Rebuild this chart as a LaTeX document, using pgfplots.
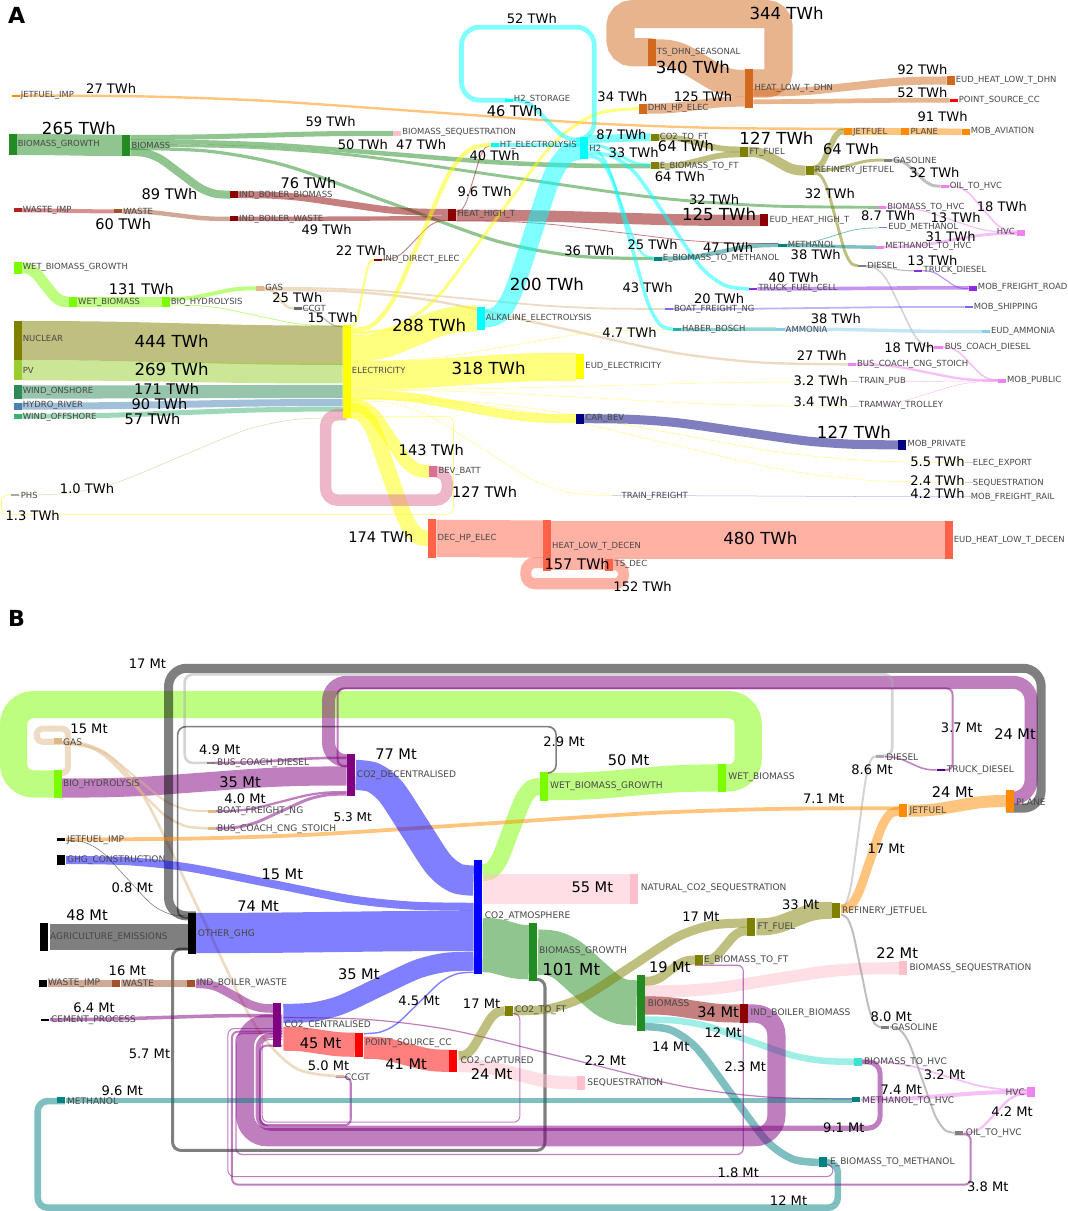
\documentclass[border=0pt]{standalone}
\usepackage[svgnames]{xcolor}
\usepackage{pgfplots}
\pgfplotsset{compat=1.18}
\usepackage{fontspec}
\setmainfont{DejaVu Sans}
% node bar: xleft, ytop, ybottom, colour
\newcommand\nd[4]{\pgfmathsetmacro\xc{#1+4}\edef\tmp{\noexpand\addplot[draw=#4,line width=8pt] coordinates {(\xc,#2)(\xc,#3)};}\tmp}
% flow: colour, width, x1,y1,x2,y2
\newcommand\fl[6]{%
\pgfmathsetmacro\dx{#5-#3}\pgfmathsetmacro\dy{#6-#4}%
\pgfmathsetmacro\xa{#3+0.15*\dx}\pgfmathsetmacro\ya{#4+0.025*\dy}%
\pgfmathsetmacro\xb{#3+0.3*\dx}\pgfmathsetmacro\yb{#4+0.16*\dy}%
\pgfmathsetmacro\xm{#3+0.5*\dx}\pgfmathsetmacro\ym{#4+0.5*\dy}%
\pgfmathsetmacro\xd{#3+0.7*\dx}\pgfmathsetmacro\yd{#4+0.84*\dy}%
\pgfmathsetmacro\xe{#3+0.85*\dx}\pgfmathsetmacro\ye{#4+0.975*\dy}%
\edef\tmp{\noexpand\addplot[draw=#1,line width=#2pt,draw opacity=0.5,smooth] coordinates {(#3,#4)(\xa,\ya)(\xb,\yb)(\xm,\ym)(\xd,\yd)(\xe,\ye)(#5,#6)};}\tmp}
% loop: colour, width, radius, coords
\newcommand\lp[4]{\addplot[draw=#1,line width=#2pt,draw opacity=0.5,rounded corners=#3pt] coordinates {#4};}
\newcommand\nl[3]{\node[anchor=west,inner sep=0pt,text=black!72,font=\fontsize{8.4}{8.4}\selectfont] at (#1,#2) {\detokenize{#3}};}
\newcommand\nb[3]{\node[anchor=west,inner sep=0pt,text=black!72,font=\fontsize{9}{9}\selectfont] at (#1,#2) {\detokenize{#3}};}
\newcommand\vl[3]{\node[inner sep=0pt,font=\fontsize{13}{13}\selectfont] at (#1,#2) {#3};}
\newcommand\ml[3]{\node[inner sep=0pt,font=\fontsize{14.5}{14.5}\selectfont] at (#1,#2) {#3};}
\newcommand\VL[3]{\node[inner sep=0pt,font=\fontsize{16.5}{16.5}\selectfont] at (#1,#2) {#3};}
\begin{document}
\begin{tikzpicture}
\begin{axis}[width=1065pt,height=1211pt,scale only axis,xmin=0,xmax=1065,ymin=0,ymax=1211,y dir=reverse,hide axis,clip=false]
% ================= PANEL A flows =================
\fl{DarkOrange}{2.4}{21}{98}{840}{131}
\fl{ForestGreen}{21}{18}{146.5}{123}{147.5}
\fl{ForestGreen}{5}{131}{139.5}{392}{135.5}
\fl{ForestGreen}{4.5}{131}{144}{648}{168}
\fl{ForestGreen}{2.9}{131}{147.5}{874}{209}
\fl{ForestGreen}{3.2}{131}{150.5}{651}{260}
\fl{ForestGreen}{8}{131}{154}{230}{196.5}
\fl{FireBrick}{4}{23}{212}{115}{213}
\fl{Sienna}{4.4}{123}{213}{230}{220.5}
\fl{DarkRed}{6.8}{238}{196.5}{447}{214}
\fl{DarkRed}{4.4}{238}{220.5}{447}{220}
\fl{DarkRed}{11.2}{455}{217}{757}{222}
\fl{DarkRed}{0.9}{381}{261}{447}{222}
\fl{DarkRed}{0.9}{455}{213}{489}{148}
\fl{DarkRed}{0.8}{455}{222.5}{775}{245}
\fl{LawnGreen}{11}{23}{269}{70}{303}
\fl{LawnGreen}{10}{78}{303}{162}{303}
\fl{LawnGreen}{4}{170}{300}{256}{289.5}
\fl{LawnGreen}{0.8}{170}{306}{342}{327}
\fl{BurlyWood}{2.3}{264}{290}{294}{309.5}
\fl{BurlyWood}{1.8}{264}{289}{662}{310}
\fl{BurlyWood}{2.4}{264}{291}{844}{365}
\fl{Gray}{1.4}{302}{309.5}{342}{327.5}
\fl{Olive}{39}{23}{341.5}{342}{346}
\fl{YellowGreen}{20}{23}{371}{342}{374}
\fl{SeaGreen}{13}{23}{392.5}{342}{392}
\fl{SteelBlue}{7}{23}{406.5}{342}{403}
\fl{MediumSeaGreen}{5}{23}{416.5}{342}{409.5}
\fl{Yellow}{2}{350}{328}{373}{261}
\fl{Yellow}{4.2}{350}{331}{489}{147}
\fl{Yellow}{3}{350}{334}{636}{111}
\fl{Yellow}{26}{350}{349}{475}{319.5}
\fl{Yellow}{0.5}{350}{362}{670}{330.5}
\fl{Yellow}{28}{350}{376}{574}{367.5}
\fl{Yellow}{0.4}{350}{390}{846}{382.5}
\fl{Yellow}{0.4}{350}{391}{846}{406.5}
\fl{Yellow}{9}{350}{395}{574}{419}
\fl{Yellow}{0.5}{350}{399}{960}{462.5}
\fl{Yellow}{0.4}{350}{400}{960}{482.5}
\fl{Yellow}{0.4}{350}{401}{610}{495.5}
\fl{Yellow}{13}{350}{406}{428}{471.5}
\fl{Yellow}{15.7}{350}{411}{427}{538}
\lp{PaleVioletRed}{11.4}{12}{(430,471.5)(446,471.5)(446,500)(325,500)(325,415)(346,415)}
\lp{Yellow}{0.8}{6}{(346,417)(452,417)(452,514)(3,514)(3,495)(16,495)}
\fl{BurlyWood}{0.7}{20}{495}{342}{418}
\fl{Cyan}{18}{483}{319.5}{578}{153}
\fl{Cyan}{3.6}{497}{147}{578}{147}
\lp{Cyan}{4.7}{18}{(580,142)(592,142)(592,30)(460,30)(460,102.5)(507,102.5)}
\fl{Cyan}{4.1}{511}{102.5}{578}{142}
\fl{Cyan}{7.8}{586}{141}{648}{139.5}
\fl{Cyan}{3}{586}{147}{648}{167}
\fl{Cyan}{2.3}{586}{151}{651}{259}
\fl{Cyan}{3.6}{586}{155}{746}{290}
\fl{Cyan}{3.5}{586}{158}{670}{330}
\fl{Olive}{5.8}{656}{139.5}{737}{151.5}
\fl{Olive}{5.8}{656}{168}{737}{156.5}
\fl{Olive}{10}{745}{154}{802}{172.5}
\fl{Olive}{5.8}{810}{170}{840}{133.5}
\fl{Olive}{2.9}{810}{172.5}{880}{162}
\fl{Olive}{2.9}{810}{175}{854}{267}
\fl{DarkOrange}{6.5}{848}{133.5}{897}{133.5}
\fl{DarkOrange}{6.5}{905}{133.5}{957}{134}
\fl{Gray}{2.9}{888}{162}{936}{188}
\fl{Violet}{1.6}{944}{188}{1012}{233}
\fl{Violet}{1.2}{882}{209}{1012}{234}
\fl{Violet}{2.8}{880}{248.5}{1012}{235}
\fl{Teal}{4.2}{659}{260}{775}{246.5}
\fl{Teal}{3.4}{783}{247}{872}{248.5}
\fl{Teal}{0.8}{783}{245.5}{875}{229.5}
\fl{Gray}{1.2}{862}{267}{910}{272}
\fl{DarkGray}{1.6}{862}{268}{930}{348}
\fl{BlueViolet}{1.2}{918}{272}{964}{290}
\fl{BlueViolet}{3.6}{754}{290}{964}{289}
\fl{MediumSlateBlue}{1.8}{670}{310}{960}{308}
\fl{LightSeaGreen}{3.4}{678}{330.5}{773}{330}
\fl{SkyBlue}{3.4}{781}{330}{977}{332.5}
\fl{Violet}{2.4}{852}{365}{993}{381}
\fl{Violet}{1.6}{938}{348}{993}{380.5}
\fl{Violet}{0.5}{853}{382.5}{993}{381.5}
\fl{Violet}{0.5}{853}{406.5}{993}{382}
\fl{Navy}{9}{582}{419}{894}{445}
\fl{MediumSlateBlue}{0.5}{618}{495.5}{958}{496.5}
\fl{Tomato}{37}{435}{538}{541}{538.5}
\fl{Tomato}{37}{549}{539.5}{940}{539.5}
\fl{Tomato}{11}{549}{564}{603}{564}
\lp{Tomato}{11}{9}{(605,564)(621,564)(621,583)(524,583)(524,562)(545,562)}
\fl{Chocolate}{10}{644}{111}{742}{104}
\fl{Chocolate}{27}{653}{55.5}{742}{86}
\lp{Chocolate}{28}{12}{(745,86)(775,86)(775,17)(618,17)(618,55)(650,55)}
\fl{Chocolate}{8}{750}{95}{942}{83}
\fl{Chocolate}{4.7}{750}{104}{945}{102.5}
% ================= PANEL A nodes =================
\nd{13}{97}{99.5}{DarkOrange}
\nd{10}{136}{157}{ForestGreen}
\nd{123}{137}{158}{ForestGreen}
\nd{392}{133}{138}{Pink}
\nd{15}{210}{214}{FireBrick}
\nd{115}{211}{215}{Sienna}
\nd{230}{193}{200}{DarkRed}
\nd{230}{218}{223}{DarkRed}
\nd{447}{211}{223}{DarkRed}
\nd{757}{216}{228}{DarkRed}
\nd{373}{260}{262}{DarkRed}
\nd{15}{263}{275}{LawnGreen}
\nd{70}{298}{308}{LawnGreen}
\nd{162}{298}{308}{LawnGreen}
\nd{256}{287}{292}{BurlyWood}
\nd{294}{308}{311}{DimGray}
\nd{15}{322}{361}{Olive}
\nd{15}{361}{381}{YellowGreen}
\nd{15}{386}{399}{SeaGreen}
\nd{15}{403}{410}{SteelBlue}
\nd{15}{414}{419}{MediumSeaGreen}
\nd{342}{326}{418}{Yellow}
\nd{475}{308}{331}{Cyan}
\nd{574}{355}{380}{Yellow}
\nd{574}{414}{424}{Navy}
\nd{428}{466}{477}{PaleVioletRed}
\nd{427}{519}{557}{Tomato}
\nd{541}{520}{570}{Tomato}
\nd{603}{558}{570}{Tomato}
\nd{940}{521}{558}{Tomato}
\nd{12}{494}{495.5}{DarkGray}
\nd{503}{101}{104}{Cyan}
\nd{489}{145}{149}{Cyan}
\nd{578}{139}{161}{Cyan}
\nd{645}{42}{69}{Chocolate}
\nd{636}{106}{116}{Chocolate}
\nd{742}{72}{110}{Chocolate}
\nd{942}{79}{87}{Chocolate}
\nd{945}{101}{104}{Red}
\nd{648}{136}{143}{Olive}
\nd{648}{164}{171}{Olive}
\nd{737}{149}{159}{Olive}
\nd{802}{168}{177}{Olive}
\nd{840}{130}{137}{DarkOrange}
\nd{897}{130}{137}{DarkOrange}
\nd{957}{131}{137}{DarkOrange}
\nd{880}{161}{163.5}{Gray}
\nd{936}{187}{189.5}{Violet}
\nd{874}{208}{210.5}{Violet}
\nd{875}{228.5}{230}{MediumPurple}
\nd{1012}{232}{237}{Violet}
\nd{775}{245}{248}{Teal}
\nd{872}{247}{250}{Violet}
\nd{651}{258}{262}{Teal}
\nd{854}{266}{268.5}{Gray}
\nd{910}{271}{273}{BlueViolet}
\nd{746}{289}{291.5}{BlueViolet}
\nd{964}{287}{292}{BlueViolet}
\nd{662}{309}{311}{MediumSlateBlue}
\nd{960}{307}{309}{MediumSlateBlue}
\nd{670}{329}{332}{LightSeaGreen}
\nd{773}{329}{331.5}{SkyBlue}
\nd{977}{331}{334}{SkyBlue}
\nd{930}{347}{349.5}{Violet}
\nd{844}{364}{366.5}{Violet}
\nd{846}{382}{383}{LightGray}
\nd{993}{380}{383.5}{Violet}
\nd{846}{406}{407}{LightGray}
\nd{894}{440}{450}{Navy}
\nd{960}{462}{463}{LightGray}
\nd{960}{482}{483}{LightGray}
\nd{958}{496}{497}{LightGray}
\nd{610}{495}{496}{LightGray}
% ================= PANEL A labels =================
\nl{22}{98}{JETFUEL_IMP}
\nl{19}{146}{BIOMASS_GROWTH}
\nl{132}{147}{BIOMASS}
\nl{401}{135}{BIOMASS_SEQUESTRATION}
\nl{24}{212}{WASTE_IMP}
\nl{124}{213}{WASTE}
\nl{239}{197}{IND_BOILER_BIOMASS}
\nl{239}{221}{IND_BOILER_WASTE}
\nl{456}{216}{HEAT_HIGH_T}
\nl{766}{222}{EUD_HEAT_HIGH_T}
\nl{382}{261}{IND_DIRECT_ELEC}
\nl{24}{269}{WET_BIOMASS_GROWTH}
\nl{79}{303}{WET_BIOMASS}
\nl{171}{303}{BIO_HYDROLYSIS}
\nl{265}{289}{GAS}
\nl{302}{309}{CCGT}
\nl{24}{339}{NUCLEAR}
\nl{24}{371}{PV}
\nl{24}{392}{WIND_ONSHORE}
\nl{24}{406}{HYDRO_RIVER}
\nl{24}{418}{WIND_OFFSHORE}
\nl{351}{371}{ELECTRICITY}
\nl{484}{319}{ALKALINE_ELECTROLYSIS}
\nl{583}{367}{EUD_ELECTRICITY}
\nl{583}{419}{CAR_BEV}
\nl{437}{471}{BEV_BATT}
\nl{436}{538}{DEC_HP_ELEC}
\nl{550}{546}{HEAT_LOW_T_DECEN}
\nl{612}{564}{TS_DEC}
\nl{949}{540}{EUD_HEAT_LOW_T_DECEN}
\nl{22}{495}{PHS}
\nl{512}{102}{H2_STORAGE}
\nl{498}{147}{HT_ELECTROLYSIS}
\nl{587}{150}{H2}
\nl{654}{55}{TS_DHN_SEASONAL}
\nl{645}{111}{DHN_HP_ELEC}
\nl{751}{91}{HEAT_LOW_T_DHN}
\nl{951}{83}{EUD_HEAT_LOW_T_DHN}
\nl{954}{103}{POINT_SOURCE_CC}
\nl{657}{139}{CO2_TO_FT}
\nl{657}{168}{E_BIOMASS_TO_FT}
\nl{746}{154}{FT_FUEL}
\nl{811}{172}{REFINERY_JETFUEL}
\nl{849}{134}{JETFUEL}
\nl{906}{134}{PLANE}
\nl{966}{134}{MOB_AVIATION}
\nl{889}{162}{GASOLINE}
\nl{945}{188}{OIL_TO_HVC}
\nl{883}{209}{BIOMASS_TO_HVC}
\nl{884}{229}{EUD_METHANOL}
\node[anchor=east,inner sep=0pt,text=black!72,font=\fontsize{8.4}{8.4}\selectfont] at (1010,233) {HVC};
\nl{784}{246}{METHANOL}
\nl{881}{248}{METHANOL_TO_HVC}
\nl{660}{260}{E_BIOMASS_TO_METHANOL}
\nl{863}{267}{DIESEL}
\nl{919}{272}{TRUCK_DIESEL}
\nl{755}{290}{TRUCK_FUEL_CELL}
\nl{973}{289}{MOB_FREIGHT_ROAD}
\nl{671}{310}{BOAT_FREIGHT_NG}
\nl{969}{308}{MOB_SHIPPING}
\nl{679}{330}{HABER_BOSCH}
\nl{782}{330}{AMMONIA}
\nl{986}{332}{EUD_AMMONIA}
\nl{940}{348}{BUS_COACH_DIESEL}
\nl{853}{365}{BUS_COACH_CNG_STOICH}
\nl{855}{382}{TRAIN_PUB}
\nl{855}{406}{TRAMWAY_TROLLEY}
\nl{1002}{381}{MOB_PUBLIC}
\nl{903}{445}{MOB_PRIVATE}
\nl{968}{463}{ELEC_EXPORT}
\nl{968}{483}{SEQUESTRATION}
\nl{966}{497}{MOB_FREIGHT_RAIL}
\nl{619}{496}{TRAIN_FREIGHT}
% values A
\vl{112}{91}{27 TWh}
\VL{80}{130}{265 TWh}
\vl{330}{124}{59 TWh}
\vl{362}{147}{50 TWh}
\ml{170}{196}{89 TWh}
\ml{308}{185}{76 TWh}
\ml{124}{226}{60 TWh}
\vl{326}{231}{49 TWh}
\vl{360}{252}{22 TWh}
\ml{142}{290}{131 TWh}
\vl{297}{299}{25 TWh}
\vl{332}{319}{15 TWh}
\VL{172}{342}{444 TWh}
\VL{172}{370}{269 TWh}
\ml{167}{389}{171 TWh}
\ml{160}{404}{90 TWh}
\ml{153}{419}{57 TWh}
\vl{88}{488}{1.0 TWh}
\vl{34}{515}{1.3 TWh}
\vl{530}{22}{52 TWh}
\ml{513}{113}{46 TWh}
\vl{420}{147}{47 TWh}
\vl{493}{158}{40 TWh}
\vl{483}{193}{9.6 TWh}
\VL{545}{285}{200 TWh}
\VL{428}{326}{288 TWh}
\VL{487}{369}{318 TWh}
\ml{430}{450}{143 TWh}
\ml{483}{492}{127 TWh}
\ml{380}{537}{174 TWh}
\vl{627}{333}{4.7 TWh}
\vl{620}{99}{34 TWh}
\vl{700}{99}{125 TWh}
\VL{690}{70}{340 TWh}
\VL{783}{16}{344 TWh}
\vl{619}{137}{87 TWh}
\vl{631}{155}{33 TWh}
\ml{683}{148}{64 TWh}
\vl{677}{178}{64 TWh}
\VL{773}{140}{127 TWh}
\vl{587}{252}{36 TWh}
\vl{650}{246}{25 TWh}
\vl{725}{249}{47 TWh}
\vl{645}{289}{43 TWh}
\vl{790}{279}{40 TWh}
\VL{716}{216}{125 TWh}
\vl{711}{201}{32 TWh}
\vl{826}{195}{32 TWh}
\ml{847}{151}{64 TWh}
\vl{918}{72}{92 TWh}
\vl{918}{95}{52 TWh}
\vl{938}{119}{91 TWh}
\vl{930}{175}{32 TWh}
\vl{997}{208}{18 TWh}
\vl{951}{219}{13 TWh}
\vl{884}{217}{8.7 TWh}
\vl{946}{238}{31 TWh}
\vl{812}{256}{38 TWh}
\vl{928}{262}{13 TWh}
\vl{716}{300}{20 TWh}
\vl{832}{320}{38 TWh}
\vl{905}{348}{18 TWh}
\vl{818}{356}{27 TWh}
\vl{817}{381}{3.2 TWh}
\vl{817}{402}{3.4 TWh}
\VL{850}{432}{127 TWh}
\vl{933}{462}{5.5 TWh}
\vl{933}{480}{2.4 TWh}
\vl{933}{493}{4.2 TWh}
\VL{757}{538}{480 TWh}
\ml{575}{563}{157 TWh}
\vl{640}{586}{152 TWh}
% ================= PANEL B flows =================
\lp{LawnGreen}{27}{20}{(715,776)(745,776)(745,703)(15,703)(15,782)(62,782)}
\fl{LawnGreen}{27}{546}{784.5}{715}{776}
\fl{LawnGreen}{17}{481}{870}{538}{784.5}
\lp{BurlyWood}{6}{6}{(56,771)(69,771)(69,727)(38,727)(38,740)(62,740)}
\fl{Purple}{19}{63}{786}{346}{774}
\fl{BurlyWood}{2}{63}{740}{208}{809}
\fl{BurlyWood}{2.5}{63}{741}{208}{826}
\fl{BurlyWood}{2.7}{63}{742}{335}{1072}
\fl{Purple}{2.6}{215}{761}{346}{756}
\fl{Purple}{2.2}{216}{809}{346}{790}
\fl{Purple}{2.9}{216}{826}{346}{792}
\lp{Purple}{13}{18}{(1001,796)(1026,796)(1026,681)(328,681)(328,759)(354,759)}
\lp{Black}{9}{18}{(1001,806)(1036,806)(1036,667)(169,667)(169,913)(196,913)}
\lp{DarkGray}{2.6}{8}{(873,754)(888,754)(888,673)(185,673)(185,761)(215,761)}
\lp{Black}{1.6}{8}{(538,771)(554,771)(554,725)(178,725)(178,915)(196,915)}
\fl{DarkGray}{2}{837}{904}{872}{754.5}
\fl{Purple}{1.5}{881}{755}{932}{768}
\lp{Purple}{2}{6}{(933,768)(948,768)(948,687)(337,687)(337,764)(354,764)}
\fl{DarkOrange}{3.8}{67}{837}{895}{806}
\fl{Black}{0.6}{67}{838}{188}{913}
\fl{Blue}{8}{67}{857.5}{472}{904}
\fl{Blue}{30}{355}{773}{472}{878}
\fl{Black}{26}{51}{934}{188}{934}
\fl{Blue}{40}{196}{930}{472}{928}
\lp{Black}{3}{8}{(527,976)(543,976)(543,1146)(173,1146)(173,946)(196,946)}
\fl{Pink}{30}{481}{886}{627}{886}
\fl{ForestGreen}{54}{481}{942}{527}{949}
\fl{ForestGreen}{45}{536}{949}{634}{999.5}
\fl{Olive}{9}{642}{978}{692}{957}
\fl{Pink}{12}{642}{988}{895}{965}
\fl{DarkRed}{18}{642}{1002}{737}{1010}
\fl{Turquoise}{6.5}{642}{1016}{850}{1058}
\fl{Teal}{7.5}{642}{1023}{815}{1158}
\fl{Olive}{9}{701}{957}{744}{928}
\fl{Olive}{9}{512}{1007.5}{744}{920}
\fl{Olive}{17}{753}{924}{828}{907.5}
\fl{DarkOrange}{9}{837}{906}{895}{809}
\fl{Gray}{2}{837}{912}{877}{1023.5}
\fl{DarkOrange}{12}{904}{808.5}{1001}{799}
\fl{Gray}{2}{886}{1023.5}{950}{1128.5}
\fl{Violet}{2.2}{959}{1128.5}{1022}{1090}
\fl{Violet}{1.7}{859}{1058}{1022}{1086}
\fl{Violet}{4}{857}{1095.5}{1022}{1088}
\lp{Purple}{18}{22}{(737,1010)(773,1010)(773,1133)(245,1133)(245,1020)(282,1020)}
\lp{Purple}{5}{12}{(850,1058)(876,1058)(876,1124)(258,1124)(258,1032)(282,1032)}
\fl{Sienna}{7}{49}{980.5}{113}{980.5}
\fl{Sienna}{7}{122}{980.5}{187}{980.5}
\fl{Purple}{8.6}{196}{980.5}{273}{1005}
\fl{Purple}{3.5}{51}{1016}{273}{1012}
\fl{Blue}{19}{283}{1010}{472}{958}
\fl{Red}{24}{283}{1035}{354}{1041}
\fl{Purple}{1.2}{283}{1014}{848}{1095}
\fl{Red}{22}{363}{1044}{448}{1057}
\fl{Blue}{1.4}{363}{1030}{472}{969}
\fl{Olive}{9}{457}{1052}{503}{1007.5}
\fl{Pink}{13}{457}{1062}{575}{1079}
\lp{Purple}{1}{6}{(503,1010)(518,1010)(518,1118)(262,1118)(262,1036)(282,1036)}
\lp{Purple}{2}{6}{(335,1073)(350,1073)(350,1121)(260,1121)(260,1042)(282,1042)}
\fl{Teal}{5}{67}{1096}{848}{1096}
\lp{Teal}{6.5}{10}{(815,1158)(834,1158)(834,1203)(39,1203)(39,1097)(66,1097)}
\lp{Purple}{1}{6}{(815,1160)(829,1160)(829,1172)(228,1172)(228,1025)(282,1025)}
\lp{Purple}{2}{6}{(950,1130)(966,1130)(966,1180)(232,1180)(232,1028)(282,1028)}
\lp{Purple}{1.2}{6}{(692,962)(740,962)(740,1150)(236,1150)(236,1030)(282,1030)}
% ================= PANEL B nodes =================
\nd{55}{736}{742}{BurlyWood}
\nd{55}{768}{796}{LawnGreen}
\nd{207}{760}{762.5}{Gray}
\nd{208}{808}{810.5}{BurlyWood}
\nd{208}{825}{827.5}{BurlyWood}
\nd{346}{752}{794}{Purple}
\nd{538}{770}{799}{LawnGreen}
\nd{715}{762}{790}{LawnGreen}
\nd{58}{836}{839}{Black}
\nd{58}{853}{862}{Black}
\nd{41}{920}{948}{Black}
\nd{188}{910}{951}{Black}
\nd{472}{857}{971}{Blue}
\nd{627}{871}{901}{Pink}
\nd{527}{920}{978}{ForestGreen}
\nd{634}{972}{1027}{ForestGreen}
\nd{40}{977}{984}{Black}
\nd{113}{977}{984}{Sienna}
\nd{187}{977}{984}{Sienna}
\nd{42}{1015}{1017.5}{Black}
\nd{273}{1000}{1043}{Purple}
\nd{354}{1029}{1053}{Red}
\nd{448}{1046}{1068}{Red}
\nd{503}{1003}{1012}{Olive}
\nd{575}{1072}{1086}{Pink}
\nd{335}{1071}{1073.5}{BurlyWood}
\nd{692}{952}{962}{Olive}
\nd{744}{915}{933}{Olive}
\nd{828}{900}{915}{Olive}
\nd{895}{958}{972}{Pink}
\nd{737}{1001}{1019}{DarkRed}
\nd{877}{1022}{1025.5}{Gray}
\nd{850}{1054}{1062}{Turquoise}
\nd{848}{1093}{1098}{Teal}
\nd{1022}{1083}{1093}{Violet}
\nd{950}{1127}{1130.5}{Gray}
\nd{815}{1153}{1163}{Teal}
\nd{58}{1093}{1099}{Teal}
\nd{872}{753}{756.5}{DarkGray}
\nd{932}{767}{769.5}{Indigo}
\nd{895}{802}{815}{DarkOrange}
\nd{1001}{788}{810}{DarkOrange}
% ================= PANEL B labels =================
\nb{64}{740}{GAS}
\nb{64}{782}{BIO_HYDROLYSIS}
\nb{217}{761}{BUS_COACH_DIESEL}
\nb{217}{809}{BOAT_FREIGHT_NG}
\nb{217}{827}{BUS_COACH_CNG_STOICH}
\nb{356}{773}{CO2_DECENTRALISED}
\nb{548}{784}{WET_BIOMASS_GROWTH}
\nb{725}{775}{WET_BIOMASS}
\nb{68}{838}{JETFUEL_IMP}
\nb{68}{858}{GHG_CONSTRUCTION}
\nb{51}{934}{AGRICULTURE_EMISSIONS}
\nb{198}{931}{OTHER_GHG}
\nb{483}{913}{CO2_ATMOSPHERE}
\nb{638}{886}{NATURAL_CO2_SEQUESTRATION}
\nb{537}{948}{BIOMASS_GROWTH}
\nb{645}{1000}{BIOMASS}
\nb{49}{980}{WASTE_IMP}
\nb{123}{980}{WASTE}
\nb{197}{980}{IND_BOILER_WASTE}
\nb{52}{1017}{CEMENT_PROCESS}
\nb{284}{1022}{CO2_CENTRALISED}
\nb{364}{1040}{POINT_SOURCE_CC}
\nb{459}{1057}{CO2_CAPTURED}
\nb{513}{1007}{CO2_TO_FT}
\nb{585}{1079}{SEQUESTRATION}
\nb{344}{1073}{CCGT}
\nb{701}{957}{E_BIOMASS_TO_FT}
\nb{754}{924}{FT_FUEL}
\nb{838}{908}{REFINERY_JETFUEL}
\nb{905}{965}{BIOMASS_SEQUESTRATION}
\nb{747}{1010}{IND_BOILER_BIOMASS}
\nb{887}{1024}{GASOLINE}
\nb{860}{1058}{BIOMASS_TO_HVC}
\nb{858}{1097}{METHANOL_TO_HVC}
\node[anchor=east,inner sep=0pt,text=black!72,font=\fontsize{9}{9}\selectfont] at (1020,1088) {HVC};
\nb{961}{1129}{OIL_TO_HVC}
\nb{826}{1158}{E_BIOMASS_TO_METHANOL}
\nb{68}{1097}{METHANOL}
\nb{882}{755}{DIESEL}
\nb{942}{768}{TRUCK_DIESEL}
\nb{905}{809}{JETFUEL}
\nb{1011}{800}{PLANE}
% values B
\vl{148}{662}{17 Mt}
\vl{90}{727}{15 Mt}
\vl{220}{748}{4.9 Mt}
\ml{240}{780}{35 Mt}
\vl{245}{797}{4.0 Mt}
\node[inner sep=0pt,font=\fontsize{12}{12}\selectfont] at (352,815) {5.3 Mt};
\ml{395}{752}{77 Mt}
\vl{562}{740}{2.9 Mt}
\ml{626}{758}{50 Mt}
\vl{820}{797}{7.1 Mt}
\vl{957}{726}{3.7 Mt}
\ml{1010}{732}{24 Mt}
\vl{868}{768}{8.6 Mt}
\ml{948}{790}{24 Mt}
\vl{882}{846}{17 Mt}
\ml{282}{872}{15 Mt}
\vl{133}{885}{0.8 Mt}
\ml{258}{903}{74 Mt}
\ml{88}{912}{48 Mt}
\ml{590}{885}{55 Mt}
\vl{797}{902}{33 Mt}
\vl{698}{914}{17 Mt}
\ml{893}{950}{22 Mt}
\VL{569}{966}{101 Mt}
\ml{667}{964}{19 Mt}
\vl{128}{968}{16 Mt}
\ml{358}{971}{35 Mt}
\vl{95}{1004}{6.4 Mt}
\vl{418}{997}{4.5 Mt}
\vl{480}{1000}{17 Mt}
\ml{715}{1009}{34 Mt}
\vl{887}{1013}{8.0 Mt}
\vl{720}{1029}{12 Mt}
\ml{320}{1040}{45 Mt}
\vl{668}{1043}{14 Mt}
\vl{150}{1050}{5.7 Mt}
\vl{603}{1057}{2.2 Mt}
\ml{405}{1060}{41 Mt}
\vl{742}{1063}{2.3 Mt}
\vl{328}{1062}{5.0 Mt}
\ml{490}{1070}{24 Mt}
\vl{940}{1071}{3.2 Mt}
\vl{123}{1087}{9.6 Mt}
\vl{897}{1086}{7.4 Mt}
\vl{1007}{1108}{4.2 Mt}
\vl{840}{1124}{9.1 Mt}
\vl{735}{1168}{1.8 Mt}
\vl{983}{1182}{3.8 Mt}
\vl{785}{1196}{12 Mt}
\node[font=\bfseries\fontsize{22}{22}\selectfont] at (18,18) {A};
\node[font=\bfseries\fontsize{22}{22}\selectfont] at (18,617) {B};
\end{axis}
\end{tikzpicture}
\end{document}
